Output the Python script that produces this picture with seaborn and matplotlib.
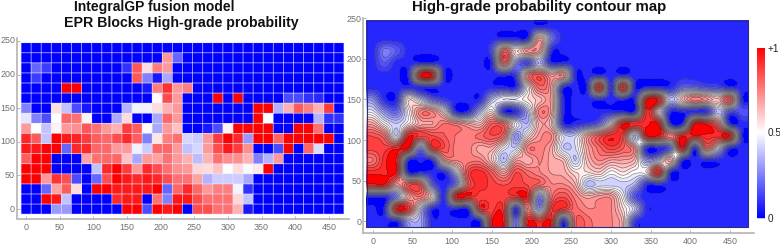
#!/usr/bin/env python3
"""
High-grade probability blocks and contour map
"""

import numpy as np
import pandas as pd
import matplotlib
matplotlib.use('Agg')
import matplotlib.pyplot as plt
from matplotlib.colors import LinearSegmentedColormap, Normalize
from matplotlib.cm import ScalarMappable
from matplotlib.patches import Rectangle
import seaborn as sns

W, H = 780, 246

x_blocks = [0, 15, 30, 45, 60, 75, 90, 105, 120, 135, 150, 165, 180, 195, 210, 225,
            240, 255, 270, 285, 300, 315, 330, 345, 360, 375, 390, 405, 420, 435, 450, 465]
y_blocks = [240, 225, 210, 195, 180, 165, 150, 135, 120, 105, 90, 75, 60, 45, 30, 15, 0]

# block values, columns follow x_blocks
y240 = [0, 0, 0, 0, 0, 0, 0, 0, 0, 0, 0, 0, 0, 0, 0, 0, 0, 0, 0, 0, 0, 0, 0, 0, 0, 0, 0, 0, 0, 0, 0, 0]
y225 = [0, 0, 0, 0, 0, 0, 0, 0, 0, 0, 0, 0, 0, 0, .7, .2, 0, 0, 0, 0, 0, 0, 0, 0, 0, 0, 0, 0, 0, 0, 0, 0]
y210 = [0, .2, .12, 0, 0, 0, 0, 0, 0, 0, .1, .83, .57, .75, .7, 0, 0, 0, 0, 0, 0, 0, 0, 0, 0, 0, 0, 0, 0, 0, 0, 0]
y195 = [0, .12, 0, 0, 0, 0, 0, 0, 0, 0, 0, .83, .25, .05, .33, 0, 0, 0, 0, 0, 0, 0, 0, 0, 0, 0, 0, 0, 0, 0, 0, 0]
y180 = [0, 0, 0, 0, 1, 1, 0, 0, 0, 0, 0, 0, .05, .75, .9, .7, .75, 0, 0, 0, 0, 0, 0, 0, 0, 0, 0, 0, 0, 0, 0, 0]
y165 = [0, 0, 0, 0, 0, 0, 0, 0, 0, 0, 0, 0, 0, .51, .85, .7, 0, 0, 0, 1, 0, 1, 0, 0, 0, 0, .15, .15, .1, .08, 0, 0]
y150 = [.25, 0, 0, .56, .38, .15, .05, 0, 0, 0, .35, .48, .48, .57, .65, .7, 0, 0, 0, 0, 0, 0, 0, 1, 1, .35, .65, .82, .75, .65, .88, 0]
y135 = [.45, .25, .15, .5, .8, .78, .52, 0, 0, .33, .57, 0, 0, .33, .8, .7, 0, 0, 0, 0, 0, 0, 0, 1, .5, 0, 0, 0, 0, .35, .1, .1]
y120 = [.7, .5, .38, .52, .7, .72, .83, .78, .7, .65, .88, .82, .5, .33, .7, .62, 0, 0, .05, .15, .52, 1, 1, 1, 1, 0, 0, 1, 1, .78, 0, 0]
y105 = [.92, .82, .38, 1, .95, .93, .88, .82, .8, .85, .92, .82, .25, .55, .75, .78, .42, .4, .7, .88, 1, .92, .3, 1, 1, .8, 1, 1, 1, 1, 1, 0]
y90 = [.95, .95, 1, 1, .2, .92, .92, .8, .8, .7, .7, .47, .4, .8, .8, .7, .38, .42, .7, .85, .95, .88, .72, 0, 0, .15, 1, 0, .8, .43, 0, 0]
y75 = [.82, 1, 1, 0, 0, 0, .68, .78, .8, .8, .62, .33, .7, .68, .78, .7, .65, .37, .65, .78, .72, .72, .65, .25, .35, .7, 0, 0, 0, 0, 0, 0]
y60 = [1, 1, 1, 0, 0, 0, 0, .38, .92, 1, .88, .7, .92, .85, .78, .72, .7, .58, .57, .62, .5, .57, .49, .54, 1, 0, 0, 0, 0, 0, 0, 0]
y45 = [1, 1, .7, .9, .85, .15, 0, .2, .85, 1, .95, .92, .95, .92, .85, .78, .78, .68, .35, .4, .4, .4, .33, 0, 0, 0, 0, 0, 0, 0, 0, 0]
y30 = [0, 0, .2, .68, .82, .57, 0, 1, 1, .95, .95, .95, .95, 1, .2, .8, .92, .8, .7, .75, .75, .48, .1, 0, 0, 0, 0, 0, 0, 0, 0, 0]
y15 = [0, 0, 1, .95, .38, 0, 0, 0, 0, .92, .95, .95, 0, .78, .25, .95, .95, .85, .78, .78, .78, .58, .38, 0, 0, 0, 0, 0, 0, 0, 0, 0]
y0 = [0, 0, 0, .3, .3, 0, 0, 0, 0, 0, 1, 1, .15, 1, .95, 1, 0, .85, .85, .78, .78, .65, .05, 0, 0, 0, 0, 0, 0, 0, 0, 0]

block_rows = [y240, y225, y210, y195, y180, y165, y150, y135, y120, y105, y90, y75, y60, y45, y30, y15, y0]

x_ticks = [0, 50, 100, 150, 200, 250, 300, 350, 400, 450]
y_ticks = [0, 50, 100, 150, 200, 250]
bar_ticks = [0, 0.5, 1]
bar_labels = ['0', '0.5', '+1']

AXIS_GRAY = '#b4b4b4'
LABEL_GRAY = '#707070'
FONT = 'Liberation Sans'


def px_rect(left, top, right, bottom):
    """Axes rectangle from pixel edges"""
    return [left / W, 1 - bottom / H, (right - left) / W, (bottom - top) / H]


def style_axis(ax, xticks, yticks):
    """Gray L shaped axis with small inward ticks"""
    ax.set_xticks(xticks)
    ax.set_xticklabels(x_ticks)
    ax.set_yticks(yticks)
    ax.set_yticklabels(y_ticks)
    ax.set_xlabel('')
    ax.set_ylabel('')
    for side in ['top', 'right']:
        ax.spines[side].set_visible(False)
    for side in ['left', 'bottom']:
        ax.spines[side].set_visible(True)
        ax.spines[side].set_color(AXIS_GRAY)
        ax.spines[side].set_linewidth(1.2)
    ax.tick_params(axis='both', direction='in', length=2.5, width=0.7, color=AXIS_GRAY,
                   labelsize=6.4, labelcolor=LABEL_GRAY, rotation=0, left=True, bottom=True)
    ax.tick_params(axis='x', pad=3)
    ax.tick_params(axis='y', pad=1)


def cubic_resample(z, factor):
    """Cubic resample along the first axis, the surface the contour lines are drawn on"""
    z = np.asarray(z, dtype=float)
    n = z.shape[0]
    t = np.arange((n - 1) * factor + 1) / factor
    i = np.minimum(t.astype(int), n - 2)
    w = (t - i)[:, None]
    p = np.pad(z, ((1, 1), (0, 0)), mode='edge')
    p0, p1, p2, p3 = p[i], p[i + 1], p[i + 2], p[i + 3]
    return p1 + 0.5 * w * (p2 - p0 + w * (2 * p0 - 5 * p1 + 4 * p2 - p3 + w * (3 * (p1 - p2) + p3 - p0)))


def plot_blocks(fig, table, cmap):
    """Block heatmap on the left"""
    ax = fig.add_axes(px_rect(16.5, 38, 349, 218.5))
    sns.heatmap(table, ax=ax, cmap=cmap, vmin=0, vmax=1, cbar=False, linewidths=0)
    # seaborn's own cell edges come out too heavy at this size
    nrow, ncol = table.shape
    ax.vlines(np.arange(ncol + 1), 0, nrow, color='#e8e8ff', linewidth=0.6, alpha=0.75, snap=False)
    ax.hlines(np.arange(nrow + 1), 0, ncol, color='#e8e8ff', linewidth=0.6, alpha=0.75, snap=False)
    ax.set_xlim(-0.45, 32.5)
    ax.set_ylim(17.43, -0.46)
    style_axis(ax,
               [v / 15 + 0.5 for v in x_ticks],
               [(240 - v) / 15 + 0.5 for v in y_ticks])


def plot_contours(fig, table, cmap):
    """Contour map of the same blocks on the right"""
    ax = fig.add_axes(px_rect(362.7, 18, 754, 233))

    # one block of padding, then cut at half a block so the map reaches the block edges
    factor = 6
    zs = np.pad(table.values[::-1], 1, mode='edge')
    fine = cubic_resample(cubic_resample(zs, factor).T, factor).T
    xs = np.linspace(-15, 480, fine.shape[1])
    ys = np.linspace(-15, 255, fine.shape[0])
    keep_x = (xs >= -7.5) & (xs <= 472.5)
    keep_y = (ys >= -7.5) & (ys <= 247.5)
    xs, ys = xs[keep_x], ys[keep_y]
    fine = fine[np.ix_(keep_y, keep_x)]

    levels = np.arange(-0.025, 1.03, 0.05)
    norm = Normalize(vmin=-0.09, vmax=1.1)
    ax.contourf(xs, ys, fine, levels=levels, cmap=cmap, norm=norm, extend='both')
    ax.contour(xs, ys, fine, levels=levels, colors='#303030', linewidths=0.4, alpha=0.7)
    ax.add_patch(Rectangle((xs[0], ys[0]), xs[-1] - xs[0], ys[-1] - ys[0], fill=False,
                           edgecolor='#26307a', linewidth=0.8))

    ax.set_xlim(-12.6, 480)
    ax.set_ylim(-14.8, 250.6)
    style_axis(ax, x_ticks, y_ticks)


def plot_colorbar(fig, cmap):
    """Vertical colour scale"""
    cax = fig.add_axes(px_rect(757, 47.5, 764.5, 217.5))
    bar = fig.colorbar(ScalarMappable(norm=Normalize(0, 1), cmap=cmap), cax=cax)
    bar.outline.set_visible(False)
    bar.set_ticks(bar_ticks)
    bar.set_ticklabels(bar_labels)
    bar.ax.tick_params(direction='in', length=5.5, width=0.7, color='#c8c8c8',
                       labelsize=7.2, labelcolor='#222222', pad=2)


def main():
    sns.set_theme(style='white')
    plt.rcParams['font.family'] = [FONT, 'DejaVu Sans']

    table = pd.DataFrame(block_rows, index=y_blocks, columns=x_blocks)
    cmap = LinearSegmentedColormap.from_list('blue_white_red', ['#0000ff', '#ffffff', '#ff0000'])

    fig = plt.figure(figsize=(W / 100, H / 100), dpi=100)
    plot_blocks(fig, table, cmap)
    plot_contours(fig, table, cmap)
    plot_colorbar(fig, cmap)

    title_style = dict(fontweight='bold', color='#111111', ha='center', va='center')
    fig.text(154 / W, 1 - 6.5 / H, 'IntegralGP fusion model', fontsize=10, **title_style)
    fig.text(181 / W, 1 - 22.5 / H, 'EPR Blocks High-grade probability', fontsize=10.2, **title_style)
    fig.text(539.5 / W, 1 - 7 / H, 'High-grade probability contour map', fontsize=10.8, **title_style)

    plt.savefig('out.png', dpi=100)
    plt.close()


if __name__ == "__main__":
    main()
